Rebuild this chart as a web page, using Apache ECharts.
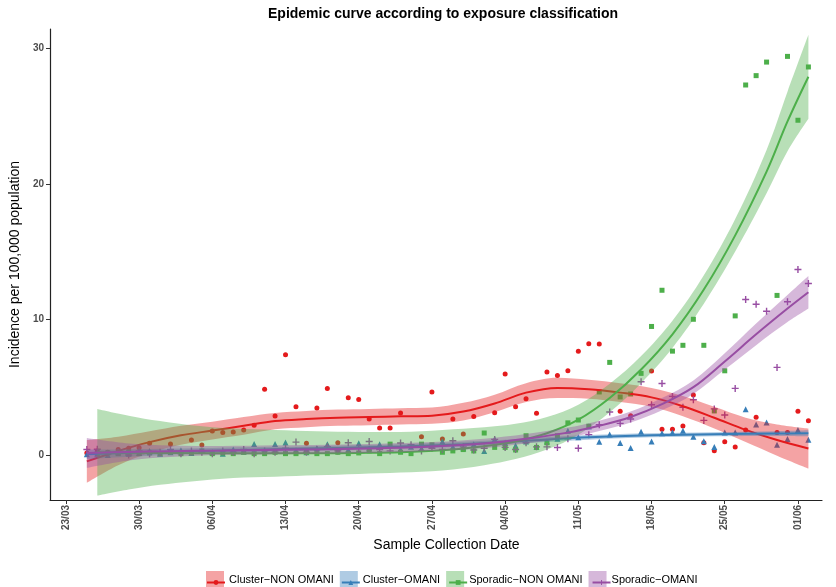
<!DOCTYPE html>
<html>
<head>
<meta charset="utf-8">
<script src="https://cdn.jsdelivr.net/npm/echarts@6/dist/echarts.min.js"></script>
<style>
  html, body { margin: 0; padding: 0; background: #fff; }
  #chart { width: 836px; height: 587px; }
</style>
</head>
<body>
<div id="chart"></div>
<script>
// day offsets from 23/03/2020
const days = [2, 3, 4, 5, 6, 7, 8, 9, 10, 11,
  12, 13, 14, 15, 16, 17, 18, 19, 20, 21,
  22, 23, 24, 25, 26, 27, 28, 29, 30, 31,
  32, 33, 34, 35, 36, 37, 38, 39, 40, 41,
  42, 43, 44, 45, 46, 47, 48, 49, 50, 51,
  52, 53, 54, 55, 56, 57, 58, 59, 60, 61,
  62, 63, 64, 65, 66, 67, 68, 69, 70, 71];

const tickDays = [0, 7, 14, 21, 28, 35, 42, 49, 56, 63, 70];
const tickLabels = ['23/03', '30/03', '06/04', '13/04', '20/04', '27/04', '04/05', '11/05', '18/05', '25/05', '01/06'];
const yTicks = [0, 10, 20, 30];

const names = ['Cluster\u2212NON OMANI', 'Cluster\u2212OMANI', 'Sporadic\u2212NON OMANI', 'Sporadic\u2212OMANI'];

// observed incidence
const clusterNonOmani = [0.15, 0.3, 0.2, 0.4, 0.5, 0.54, 0.86, null, 0.81, null,
  1.1, 0.74, 1.77, 1.65, 1.7, 1.84, 2.19, 4.84, 2.87, 7.39,
  3.56, 0.86, 3.46, 4.91, 0.91, 4.22, 4.1, 2.65, 1.99, 1.99,
  3.1, null, 1.35, 4.64, 1.18, 2.65, 1.55, 2.83, null, 3.12,
  5.97, 3.56, 4.15, 3.07, 6.12, 5.87, 6.21, 7.66, 8.2, 8.18,
  null, 3.22, 2.9, null, 6.19, 1.89, 1.89, 2.14, 4.42, 0.9,
  0.32, 0.98, 0.59, 1.84, 2.78, null, 1.65, 1.65, 3.22, 2.53];
const clusterOmani = [0.05, 0.1, 0.0, 0.2, 0.1, 0.15, 0.3, 0.1, 0.2, 0.35,
  0.15, 0.3, 0.2, 0.1, 0.4, 0.25, 0.81, 0.3, 0.81, 0.93,
  0.35, 0.2, 0.5, 0.79, 0.3, 0.4, 0.86, 0.5, 0.8, 0.75,
  0.4, 0.6, 0.5, 0.7, 1.0, 0.6, 0.5, 0.8, 0.29, 1.18,
  0.9, 0.7, 1.0, 0.61, 1.0, 1.2, 1.79, 1.3, 2.1, 0.98,
  1.52, 0.88, 0.52, 1.72, 0.99, 1.6, 1.65, 1.79, 1.35, 1.02,
  0.58, 1.66, 1.66, 3.38, 2.25, 2.4, 0.75, 1.18, 1.84, 1.13];
const sporadicNonOmani = [null, 0.1, 0.15, 0.1, 0.2, 0.1, 0.15, 0.1, 0.2, 0.1,
  0.15, 0.3, 0.1, 0.15, 0.1, 0.2, 0.1, 0.1, 0.2, 0.1,
  0.1, 0.2, 0.1, 0.1, 0.2, 0.1, 0.15, 0.3, 0.1, 0.8,
  0.2, 0.1, 0.8, 0.75, 0.2, 0.3, 0.4, 0.3, 1.62, 0.56,
  0.56, 0.37, 1.42, 0.56, 0.9, 1.42, 2.37, 2.58, 2.12, 4.65,
  6.83, 4.28, 4.5, 6.02, 9.48, 12.15, 7.66, 8.09, 10.01, 8.09,
  3.25, 6.21, 10.26, 27.29, 27.98, 28.98, 11.77, 29.4, 24.69, 28.62];
const sporadicOmani = [0.4, 0.42, 0.1, 0.2, 0.0, 0.3, 0.1, 0.2, 0.4, 0.1,
  0.3, 0.2, 0.1, 0.3, 0.2, 0.4, 0.1, 0.3, 0.2, 0.5,
  0.95, 0.2, 0.4, 0.62, 0.3, 0.9, 0.5, 1.0, 0.4, 0.3,
  0.88, 0.75, 0.3, 0.5, 0.4, 1.05, 0.6, 0.37, 0.5, 1.15,
  0.56, 0.4, 0.9, 0.6, 0.6, 0.55, 1.2, 0.5, 1.5, 2.23,
  3.17, 2.33, 2.65, 5.4, 3.7, 5.27, 4.32, 3.52, 4.07, 2.55,
  3.4, 2.95, 4.91, 11.47, 11.12, 10.6, 6.46, 11.3, 13.68, 12.65];

// smoothed fits with confidence band
const redFitDays = [2, 5, 8, 11, 14, 17, 20, 23, 26, 29, 32, 35, 38, 41, 44, 47, 50, 53, 56, 59, 62, 65, 68, 71];
const redFit = [-0.47, 0.3, 0.95, 1.45, 1.8, 2.15, 2.5, 2.65, 2.75, 2.8, 2.85, 2.9, 3.2, 3.8, 4.6, 4.95, 4.85, 4.6, 4.25, 3.6, 2.75, 1.85, 1.1, 0.48];
const redLo = [-2.05, -0.75, 0.15, 0.75, 1.15, 1.5, 1.9, 2.05, 2.15, 2.2, 2.25, 2.3, 2.55, 3.15, 3.9, 4.2, 4.15, 3.9, 3.55, 2.85, 1.95, 0.95, -0.05, -1.0];
const redHi = [1.1, 1.35, 1.75, 2.15, 2.45, 2.8, 3.1, 3.25, 3.35, 3.4, 3.45, 3.5, 3.85, 4.45, 5.3, 5.7, 5.55, 5.3, 4.95, 4.35, 3.55, 2.75, 2.25, 1.95];

const blueFitDays = [2, 8, 14, 20, 26, 32, 38, 44, 50, 56, 62, 68, 71];
const blueFit = [0.05, 0.2, 0.32, 0.42, 0.52, 0.63, 0.8, 1.05, 1.3, 1.45, 1.53, 1.58, 1.6];
const blueLo = [-0.3, -0.05, 0.12, 0.25, 0.35, 0.47, 0.63, 0.88, 1.13, 1.3, 1.38, 1.4, 1.38];
const blueHi = [0.4, 0.45, 0.52, 0.6, 0.69, 0.79, 0.97, 1.22, 1.47, 1.6, 1.68, 1.76, 1.82];

const greenFitDays = [3, 6, 9, 12, 16, 20, 24, 28, 32, 36, 40, 43, 46, 49, 52, 55, 58, 61, 64, 67, 69, 71];
const greenFit = [0.2, 0.18, 0.15, 0.13, 0.12, 0.12, 0.13, 0.15, 0.2, 0.35, 0.65, 1.0, 1.6, 2.6, 4.2, 6.3, 8.9, 12.2, 16.2, 20.9, 24.6, 27.9];
const greenLo = [-3.0, -2.55, -2.2, -1.95, -1.7, -1.6, -1.5, -1.4, -1.3, -1.15, -0.75, -0.3, 0.4, 1.5, 3.15, 5.3, 7.9, 11.15, 15.0, 19.3, 22.4, 24.8];
const greenHi = [3.4, 2.9, 2.5, 2.2, 1.95, 1.85, 1.75, 1.7, 1.7, 1.85, 2.05, 2.3, 2.8, 3.7, 5.25, 7.3, 9.9, 13.25, 17.4, 22.5, 26.8, 31.0];

const purpleFitDays = [2, 6, 10, 15, 20, 25, 30, 35, 40, 44, 48, 51, 54, 57, 60, 63, 66, 69, 71];
const purpleFit = [0.15, 0.22, 0.28, 0.33, 0.38, 0.43, 0.5, 0.62, 0.85, 1.2, 1.65, 2.15, 2.8, 3.75, 5.0, 6.9, 8.9, 10.8, 12.0];
const purpleLo = [-0.95, -0.4, -0.15, 0.0, 0.05, 0.1, 0.17, 0.29, 0.5, 0.85, 1.28, 1.77, 2.4, 3.3, 4.5, 6.3, 8.1, 9.8, 10.8];
const purpleHi = [1.25, 0.85, 0.7, 0.66, 0.71, 0.76, 0.83, 0.95, 1.2, 1.55, 2.02, 2.53, 3.2, 4.2, 5.5, 7.5, 9.7, 11.8, 13.2];

const colors = ['#E41A1C', '#377EB8', '#4DAF4A', '#984EA3'];
const fills = ['rgba(228,26,28,0.4)', 'rgba(55,126,184,0.4)', 'rgba(77,175,74,0.4)', 'rgba(152,78,163,0.4)'];
const plusPath = 'path://M4,0H6V4H10V6H6V10H4V6H0V4H4Z';
const symbols = ['circle', 'triangle', 'rect', plusPath];
const symbolSizes = [5, 6, 5, 7];

const FONT = '"Liberation Sans", Arial, Helvetica, sans-serif';
const X_MIN = -1.52, X_MAX = 72.3;
// hidden time axis, same span, used only so the ribbons stack on y
const DAY = 86400000;
const start = Date.UTC(2020, 2, 23);
const t = d => start + d * DAY;

const groups = [
  {obs: clusterNonOmani, fd: redFitDays, fit: redFit, lo: redLo, hi: redHi},
  {obs: clusterOmani, fd: blueFitDays, fit: blueFit, lo: blueLo, hi: blueHi},
  {obs: sporadicNonOmani, fd: greenFitDays, fit: greenFit, lo: greenLo, hi: greenHi},
  {obs: sporadicOmani, fd: purpleFitDays, fit: purpleFit, lo: purpleLo, hi: purpleHi}
];

let series = [];

// points first, ribbons and lines drawn over them
groups.forEach((g, i) => {
  series.push({
    type: 'scatter',
    name: 'pts' + i,
    z: 2,
    symbol: symbols[i],
    symbolSize: symbolSizes[i],
    itemStyle: {color: colors[i], opacity: 1},
    data: days.map((d, k) => [d, g.obs[k]]).filter(p => p[1] !== null)
  });
});

groups.forEach((g, i) => {
  series.push({
    type: 'line',
    name: 'lo' + i,
    xAxisIndex: 1,
    stack: 'band' + i,
    stackStrategy: 'all',
    z: 3 + i * 2,
    smooth: 0.35,
    symbol: 'none',
    lineStyle: {opacity: 0},
    data: g.fd.map((d, k) => [t(d), g.lo[k]])
  });
  series.push({
    type: 'line',
    name: names[i],
    xAxisIndex: 1,
    stack: 'band' + i,
    stackStrategy: 'all',
    z: 3 + i * 2,
    smooth: 0.35,
    symbol: 'none',
    itemStyle: {color: fills[i]},
    lineStyle: {opacity: 0},
    areaStyle: {color: fills[i], opacity: 1},
    data: g.fd.map((d, k) => [t(d), g.hi[k] - g.lo[k]])
  });
  series.push({
    type: 'line',
    name: 'fit' + i,
    z: 4 + i * 2,
    smooth: 0.35,
    symbol: symbols[i],
    showSymbol: false,
    itemStyle: {color: colors[i]},
    lineStyle: {color: colors[i], width: 2},
    data: g.fd.map((d, k) => [d, g.fit[k]])
  });
});

let myChart = echarts.init(document.getElementById('chart'), null, {renderer: 'canvas'});

myChart.setOption({
  animation: false,
  backgroundColor: '#fff',
  textStyle: {fontFamily: FONT},
  title: {
    text: 'Epidemic curve according to exposure classification',
    left: 268,
    top: 7,
    padding: 0,
    textStyle: {fontSize: 14, fontWeight: 'bold', color: '#000', fontFamily: FONT}
  },
  grid: {left: 45, right: 14, top: 29, bottom: 87, containLabel: false},
  legend: [
    {
      left: 201,
      top: 566,
      itemWidth: 18,
      itemHeight: 18,
      itemGap: 6,
      selectedMode: false,
      textStyle: {fontSize: 11, color: '#000', fontFamily: FONT},
      data: names.map((n, i) => ({name: n, icon: 'rect', itemStyle: {color: fills[i]}}))
    },
    {
      left: 201,
      top: 572,
      itemWidth: 18,
      itemHeight: 6,
      itemGap: 6,
      selectedMode: false,
      formatter: n => names[+n.slice(3)],
      textStyle: {fontSize: 11, color: 'rgba(0,0,0,0)', fontFamily: FONT},
      data: ['fit0', 'fit1', 'fit2', 'fit3']
    }
  ],
  xAxis: [
    {
      type: 'value',
      min: X_MIN,
      max: X_MAX,
      name: 'Sample Collection Date',
      nameLocation: 'middle',
      nameGap: 22,
      nameTextStyle: {fontSize: 14, color: '#000', padding: [0, 0, 0, 21], fontFamily: FONT},
      axisLine: {show: true, onZero: false, lineStyle: {color: '#222', width: 1.2}},
      axisTick: {show: true, customValues: tickDays, length: 4, lineStyle: {color: '#333'}},
      axisLabel: {
        customValues: tickDays,
        formatter: v => tickLabels[tickDays.indexOf(Math.round(v))],
        rotate: 90,
        margin: 5,
        fontSize: 10,
        fontWeight: 'bold',
        color: '#4d4d4d'
      },
      splitLine: {show: false}
    },
    {
      type: 'time',
      show: false,
      min: t(X_MIN),
      max: t(X_MAX),
      splitLine: {show: false}
    }
  ],
  yAxis: {
    type: 'value',
    min: -3.32,
    max: 31.42,
    name: 'Incidence per 100,000 population',
    nameLocation: 'middle',
    nameGap: 14,
    nameTextStyle: {fontSize: 14, color: '#000', fontFamily: FONT},
    axisLine: {show: true, onZero: false, lineStyle: {color: '#222', width: 1.2}},
    axisTick: {show: true, customValues: yTicks, length: 4, lineStyle: {color: '#333'}},
    axisLabel: {customValues: yTicks, margin: 6, fontSize: 10, fontWeight: 'bold', color: '#4d4d4d'},
    splitLine: {show: false}
  },
  series: series
});
</script>
</body>
</html>
